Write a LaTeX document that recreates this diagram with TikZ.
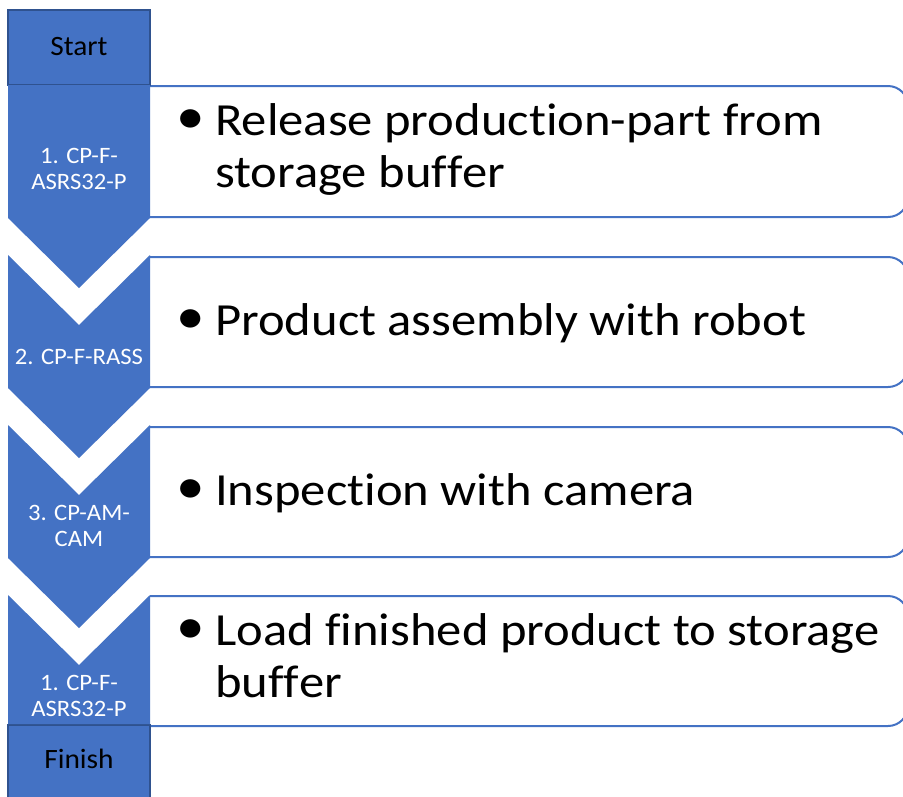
\documentclass[tikz,border=0pt]{standalone}
\usepackage{fontspec}
\setmainfont[RawFeature={-liga;-clig;-dlig}]{Carlito}
\newfontfamily\mainf[FakeStretch=1.1, RawFeature={-liga;-clig;-dlig}]{Carlito}
\newfontfamily\labf[FakeStretch=1.05, RawFeature={-liga;-clig;-dlig}]{Carlito}
\newcommand{\nolig}{\kern0pt{}}
\definecolor{cpblue}{HTML}{4472C4}
\definecolor{cpdark}{HTML}{2F528F}
\tikzset{
  endbox/.style={fill=cpblue, draw=cpdark, line width=2pt},
  chev/.style={fill=cpblue, draw=none},
  textbox/.style={draw=cpblue, line width=2pt},
  bigtext/.style={anchor=base west, inner sep=0pt, text=black, font=\mainf\fontsize{46}{52}\selectfont},
  bul/.style={anchor=center, inner sep=0pt, text=black, font=\mainf\fontsize{52}{52}\selectfont},
  lab/.style={anchor=base, inner sep=0pt, text=white, font=\labf\fontsize{23.5}{26}\selectfont},
  endlab/.style={anchor=base, inner sep=0pt, text=black, font=\labf\fontsize{28}{30}\selectfont}
}
\begin{document}
\begin{tikzpicture}[x=1pt,y=-1pt]
\useasboundingbox (0,0) rectangle (903,796);
\clip (0,0) rectangle (903,796);
% text boxes
\foreach \t/\b in {86/217, 257/387, 427/557, 596/726}{
  \fill[white] (150,\t) rectangle (908,\b);
  \draw[textbox, rounded corners=20pt] (150,\t) -- (908,\t) -- (908,\b) -- (150,\b);
}
% start / finish
\draw[endbox] (8,10) rectangle (150,85);
\draw[endbox] (8,725) rectangle (150,810);
% chevrons
\fill[chev] (8,85) -- (150,85) -- (150,218) -- (79,288) -- (8,218) -- cycle;
\fill[chev] (8,255) -- (79,325) -- (150,255) -- (150,388) -- (79,458) -- (8,388) -- cycle;
\fill[chev] (8,425) -- (79,495) -- (150,425) -- (150,558) -- (79,628) -- (8,558) -- cycle;
\fill[chev] (8,595) -- (79,665) -- (150,595) -- (150,724) -- (8,724) -- cycle;
% labels
\node[endlab] (start) at (79,55) {Start};
\node[endlab] (finish) at (79,768) {Finish};
\node[lab] (l1a) at (79,163) {1. CP-F-};
\node[lab] (l1b) at (79,189) {ASRS32-P};
\node[lab] (l2) at (79,364) {2. CP-F-RASS};
\node[lab] (l3a) at (79,520) {3. CP-AM-};
\node[lab] (l3b) at (79,546) {CAM};
\node[lab] (l4a) at (79,690) {1. CP-F-};
\node[lab] (l4b) at (79,716) {ASRS32-P};
% main texts
\node[bul] (b1) at (191,122) {•};
\node[bigtext] (t1a) at (215,135) {Release product\nolig ion-part from};
\node[bigtext] (t1b) at (215,187) {storage buf\nolig f\nolig er};
\node[bul] (b2) at (191,322) {•};
\node[bigtext] (t2) at (215,335) {Product assembly with robot};
\node[bul] (b3) at (191,492) {•};
\node[bigtext] (t3) at (215,505) {Inspect\nolig ion with camera};
\node[bul] (b4) at (191,632) {•};
\node[bigtext] (t4a) at (215,645) {Load f\nolig inished product to storage};
\node[bigtext] (t4b) at (215,697) {buf\nolig f\nolig er};
\end{tikzpicture}
\end{document}
